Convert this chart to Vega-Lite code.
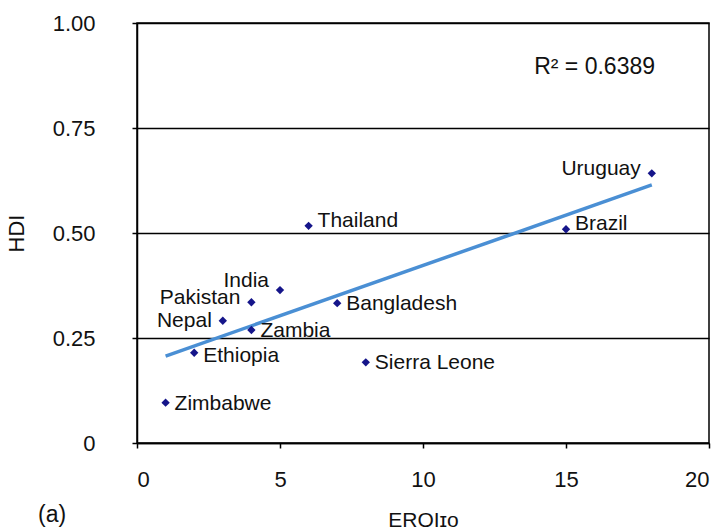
{
  "$schema": "https://vega.github.io/schema/vega-lite/v6.json",
  "width": 572,
  "height": 420,
  "autosize": {"type": "none"},
  "padding": {"left": 137, "top": 23, "right": 13, "bottom": 88},
  "background": "white",
  "config": {
    "font": "Liberation Sans",
    "view": {"stroke": "black", "strokeWidth": 1.5},
    "axis": {"labelFont": "Liberation Sans", "titleFont": "Liberation Sans", "labelColor": "#111", "titleColor": "#111", "titleFontWeight": "normal"}
  },
  "title": {"text": "(a)", "orient": "bottom", "anchor": "start", "frame": "group", "dx": -99, "offset": -26, "fontSize": 23, "fontWeight": "normal", "font": "Liberation Sans", "color": "#111"},
  "datasets": {
    "points": [
      {"country": "Uruguay", "eroi": 18, "hdi": 0.642},
      {"country": "Brazil", "eroi": 15, "hdi": 0.509},
      {"country": "Thailand", "eroi": 6, "hdi": 0.517},
      {"country": "India", "eroi": 5, "hdi": 0.364},
      {"country": "Pakistan", "eroi": 4, "hdi": 0.335},
      {"country": "Nepal", "eroi": 3, "hdi": 0.291},
      {"country": "Zambia", "eroi": 4, "hdi": 0.269},
      {"country": "Ethiopia", "eroi": 2, "hdi": 0.215},
      {"country": "Bangladesh", "eroi": 7, "hdi": 0.333},
      {"country": "Sierra Leone", "eroi": 8, "hdi": 0.192},
      {"country": "Zimbabwe", "eroi": 1, "hdi": 0.096}
    ],
    "annotation": [{"label": "R² = 0.6389", "eroi": 16, "hdi": 0.895}]
  },
  "data": {"name": "points"},
  "encoding": {
    "x": {
      "field": "eroi", "type": "quantitative",
      "scale": {"domain": [0, 20], "nice": false, "zero": false},
      "axis": {
        "title": "EROIɪᴏ", "values": [0, 5, 10, 15, 20], "grid": false,
        "domainColor": "black", "domainWidth": 1.5, "tickColor": "black", "tickWidth": 1.5, "tickSize": 5,
        "labelFontSize": 22, "labelPadding": 21, "titleFontSize": 21, "titleY": 66, "titleBaseline": "top"
      }
    },
    "y": {
      "field": "hdi", "type": "quantitative",
      "scale": {"domain": [0, 1], "nice": false},
      "axis": {
        "title": "HDI", "values": [0, 0.25, 0.5, 0.75, 1],
        "labelExpr": "datum.value == 0 ? '0' : format(datum.value, '.2f')",
        "grid": true, "gridColor": "black", "gridWidth": 1.5, "gridOpacity": 1,
        "domainColor": "black", "domainWidth": 1.5, "tickColor": "black", "tickWidth": 1.5, "tickSize": 5,
        "labelFontSize": 22, "labelPadding": 37, "titleFontSize": 22, "titleX": -109
      }
    }
  },
  "layer": [
    {
      "transform": [{"regression": "hdi", "on": "eroi"}],
      "mark": {"type": "line", "color": "#4a8fd4", "strokeWidth": 3.5}
    },
    {
      "mark": {"type": "point", "shape": "diamond", "filled": true, "color": "#15158a", "size": 70, "opacity": 1}
    },
    {
      "transform": [{"filter": {"field": "country", "oneOf": ["Zimbabwe", "Bangladesh", "Sierra Leone", "Zambia"]}}],
      "mark": {"type": "text", "align": "left", "baseline": "middle", "dx": 9, "dy": 1, "fontSize": 21, "color": "#111"},
      "encoding": {"text": {"field": "country"}}
    },
    {
      "transform": [{"filter": {"field": "country", "oneOf": ["Ethiopia"]}}],
      "mark": {"type": "text", "align": "left", "baseline": "middle", "dx": 9, "dy": 3, "fontSize": 21, "color": "#111"},
      "encoding": {"text": {"field": "country"}}
    },
    {
      "transform": [{"filter": {"field": "country", "oneOf": ["Thailand", "Brazil"]}}],
      "mark": {"type": "text", "align": "left", "baseline": "middle", "dx": 9, "dy": -5, "fontSize": 21, "color": "#111"},
      "encoding": {"text": {"field": "country"}}
    },
    {
      "transform": [{"filter": {"field": "country", "oneOf": ["Uruguay", "Pakistan"]}}],
      "mark": {"type": "text", "align": "right", "baseline": "middle", "dx": -11, "dy": -4, "fontSize": 21, "color": "#111"},
      "encoding": {"text": {"field": "country"}}
    },
    {
      "transform": [{"filter": {"field": "country", "oneOf": ["Nepal"]}}],
      "mark": {"type": "text", "align": "right", "baseline": "middle", "dx": -11, "dy": 0, "fontSize": 21, "color": "#111"},
      "encoding": {"text": {"field": "country"}}
    },
    {
      "transform": [{"filter": {"field": "country", "oneOf": ["India"]}}],
      "mark": {"type": "text", "align": "right", "baseline": "middle", "dx": -11, "dy": -9, "fontSize": 21, "color": "#111"},
      "encoding": {"text": {"field": "country"}}
    },
    {
      "data": {"name": "annotation"},
      "mark": {"type": "text", "align": "center", "baseline": "middle", "fontSize": 23, "color": "#111"},
      "encoding": {"text": {"field": "label"}}
    }
  ]
}
